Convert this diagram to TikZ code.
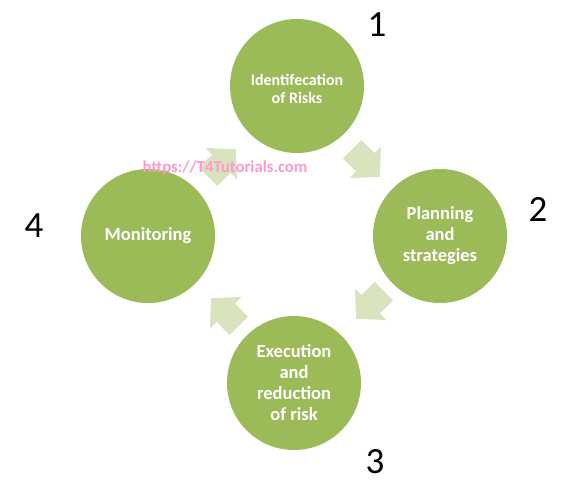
\documentclass[tikz,border=0pt]{standalone}
\usepackage{fontspec}
\setmainfont{Carlito}
\definecolor{cgreen}{HTML}{9BBB59}
\definecolor{agreen}{HTML}{D7E4BD}
\definecolor{wpink}{HTML}{FF99CC}
\tikzset{
  stage/.style={circle, fill=cgreen, draw=none, minimum size=134pt, inner sep=0pt,
    text=white, align=center, font=\bfseries\fontsize{18.5}{21}\selectfont},
  stagetext/.style={text=white, align=center, inner sep=0pt},
  numlabel/.style={font=\fontsize{37}{40}\selectfont, text=black, inner sep=0pt},
  blockarrow/.pic={
    \fill[agreen] (-19.5,-13) -- (-1,-13) -- (-1,-22.3) -- (19.5,0) -- (-1,22.3) -- (-1,13) -- (-19.5,13) -- cycle;
  }
}
\begin{document}
\begin{tikzpicture}[x=1pt,y=-1pt]
\useasboundingbox (0,0) rectangle (563,483);
% circles
\node[stage] (c1) at (297,86) {};
\node[stagetext, font=\bfseries\fontsize{16}{18}\selectfont] (t1) at (297,89) {Identifecation\\of Risks};
\node[stage] (c2) at (440,236) {Planning\\and\\strategies};
\node[stage] (c3) at (294,383) {Execution\\and\\reduction\\of risk};
\node[stage] (c4) at (148,236) {Monitoring};
% arrows
\pic[rotate=-45] (a12) at (366,163) {blockarrow};
\pic[rotate=-135] (a23) at (370,305) {blockarrow};
\pic[rotate=135] (a34) at (225,312) {blockarrow};
\pic[rotate=45] (a41) at (222,163) {blockarrow};
% watermark
\node[font=\bfseries\fontsize{16.7}{18}\selectfont, text=wpink, inner sep=0pt] (wm) at (225,168) {https://T4Tutorials.com};
% numbers
\node[numlabel] (n1) at (377,25) {1};
\node[numlabel] (n2) at (538,209) {2};
\node[numlabel] (n3) at (375,462) {3};
\node[numlabel] (n4) at (34,226) {4};
\end{tikzpicture}
\end{document}
